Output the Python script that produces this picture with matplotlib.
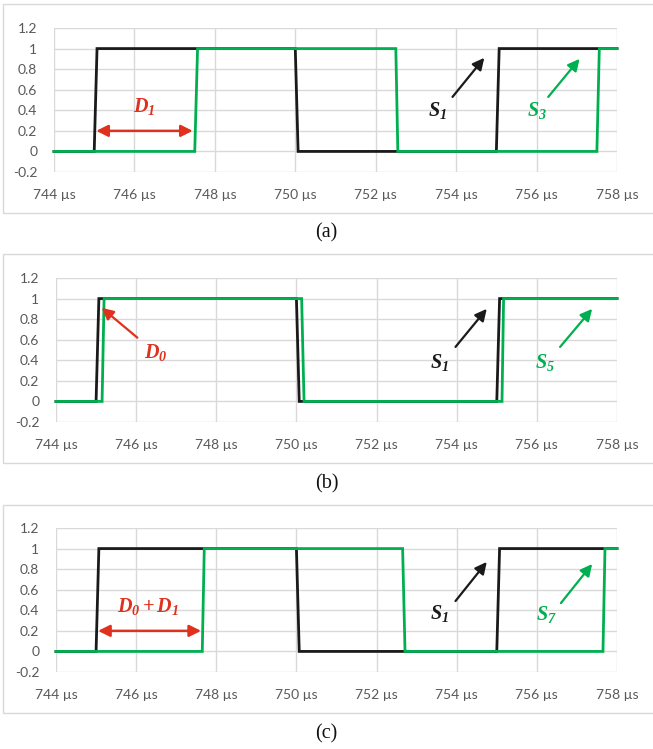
import matplotlib
matplotlib.use("Agg")
import matplotlib.pyplot as plt
from matplotlib.patches import Rectangle

# ---- data ----
x_ticks = [744, 746, 748, 750, 752, 754, 756, 758]
x_tick_labels = ["744 µs", "746 µs", "748 µs", "750 µs", "752 µs", "754 µs", "756 µs", "758 µs"]
y_ticks = [-0.2, 0, 0.2, 0.4, 0.6, 0.8, 1, 1.2]
y_tick_labels = ["-0.2", "0", "0.2", "0.4", "0.6", "0.8", "1", "1.2"]

t_s1 = [744, 745.0, 745.07, 750.0, 750.07, 755.0, 755.07, 758]
v_s1 = [0, 0, 1, 1, 0, 0, 1, 1]

t_s3 = [744, 747.5, 747.57, 752.5, 752.55, 757.5, 757.56, 758]
v_s3 = [0, 0, 1, 1, 0, 0, 1, 1]

t_s5 = [744, 745.15, 745.2, 750.13, 750.19, 755.13, 755.17, 758]
v_s5 = [0, 0, 1, 1, 0, 0, 1, 1]

t_s7 = [744, 747.65, 747.7, 752.65, 752.71, 757.65, 757.7, 758]
v_s7 = [0, 0, 1, 1, 0, 0, 1, 1]

green_names = [r"$\mathbf{S_3}$", r"$\mathbf{S_5}$", r"$\mathbf{S_7}$"]
black_name = r"$\mathbf{S_1}$"
captions = ["(a)", "(b)", "(c)"]

BLACK = "#1a1a1a"
GREEN = "#00b050"
RED = "#e0301e"
GRID = "#d9d9d9"
TICKC = "#595959"

plt.rcParams["mathtext.fontset"] = "custom"
plt.rcParams["mathtext.bf"] = "Liberation Serif:bold:italic"
plt.rcParams["mathtext.it"] = "Liberation Serif:italic"
plt.rcParams["mathtext.rm"] = "Liberation Serif"

W, H = 653, 749
fig = plt.figure(figsize=(W / 100, H / 100), dpi=100)

# panel geometry in pixels: (axes left, axes right, axes top, axes bottom, box top, box bottom, caption y)
panels = [
    (54, 617, 28, 172, 4, 213, 233),
    (56, 617, 278, 422, 254, 463, 484),
    (56, 617, 528, 672, 505, 713, 734),
]

green_series = [(t_s3, v_s3), (t_s5, v_s5), (t_s7, v_s7)]

axes = []
for i, (l, r, t, b, bt, bb, cy) in enumerate(panels):
    # frame box
    fig.patches.append(Rectangle((3 / W, 1 - bb / H), (W + 10) / W, (bb - bt) / H,
                                 transform=fig.transFigure, fill=False,
                                 edgecolor=GRID, linewidth=1.0))
    ax = fig.add_axes([l / W, 1 - b / H, (r - l) / W, (b - t) / H])
    axes.append(ax)
    ax.set_xlim(744, 758)
    ax.set_ylim(-0.2, 1.2)
    ax.set_xticks(x_ticks)
    ax.set_xticklabels(x_tick_labels)
    ax.set_yticks(y_ticks)
    ax.set_yticklabels(y_tick_labels)
    for s in ax.spines.values():
        s.set_visible(False)
    ax.grid(True, color=GRID, linewidth=1.0)
    ax.set_axisbelow(True)
    ax.tick_params(length=0, colors=TICKC, labelsize=10)
    ax.tick_params(axis="x", pad=12)
    ax.tick_params(axis="y", pad=12)
    for lab in ax.get_xticklabels() + ax.get_yticklabels():
        lab.set_fontfamily("Lato")
        lab.set_color(TICKC)
    ax.patch.set_alpha(0)

    ax.plot(t_s1, v_s1, color=BLACK, linewidth=2.0, solid_joinstyle="miter", clip_on=False)
    gt, gv = green_series[i]
    ax.plot(gt, gv, color=GREEN, linewidth=2.0, solid_joinstyle="miter", clip_on=False)

    fig.text(0.5, 1 - cy / H, captions[i], ha="center", va="center",
             fontsize=14.5, family="Liberation Serif", color="#111111")

arrow_kw = dict(arrowstyle="-|>,head_length=0.7,head_width=0.35", linewidth=1.6,
                shrinkA=0, shrinkB=0)
dbl_kw = dict(arrowstyle="<|-|>,head_length=0.7,head_width=0.35", linewidth=1.8,
              shrinkA=0, shrinkB=0, color=RED)

FS = 14.5

# (a)
ax = axes[0]
ax.annotate("", xy=(747.45, 0.2), xytext=(745.05, 0.2), arrowprops=dbl_kw)
ax.text(746.25, 0.44, r"$\mathbf{D_1}$", color=RED, fontsize=FS, ha="center", va="center")
ax.annotate("", xy=(754.7, 0.91), xytext=(753.91, 0.53), arrowprops=dict(color=BLACK, **arrow_kw))
ax.text(753.53, 0.4, black_name, color=BLACK, fontsize=FS, ha="center", va="center")
ax.annotate("", xy=(757.07, 0.9), xytext=(756.29, 0.53), arrowprops=dict(color=GREEN, **arrow_kw))
ax.text(756.02, 0.4, green_names[0], color=GREEN, fontsize=FS, ha="center", va="center")

# (b)
ax = axes[1]
ax.annotate("", xy=(745.14, 0.91), xytext=(746.03, 0.62), arrowprops=dict(color=RED, **arrow_kw))
ax.text(746.5, 0.48, r"$\mathbf{D_0}$", color=RED, fontsize=FS, ha="center", va="center")
ax.annotate("", xy=(754.75, 0.9), xytext=(753.97, 0.53), arrowprops=dict(color=BLACK, **arrow_kw))
ax.text(753.58, 0.38, black_name, color=BLACK, fontsize=FS, ha="center", va="center")
ax.annotate("", xy=(757.38, 0.9), xytext=(756.58, 0.53), arrowprops=dict(color=GREEN, **arrow_kw))
ax.text(756.2, 0.38, green_names[1], color=GREEN, fontsize=FS, ha="center", va="center")

# (c)
ax = axes[2]
ax.annotate("", xy=(747.62, 0.2), xytext=(745.05, 0.2), arrowprops=dbl_kw)
ax.text(746.3, 0.44, r"$\mathbf{D_0+D_1}$", color=RED, fontsize=FS, ha="center", va="center")
ax.annotate("", xy=(754.75, 0.87), xytext=(753.97, 0.49), arrowprops=dict(color=BLACK, **arrow_kw))
ax.text(753.58, 0.37, black_name, color=BLACK, fontsize=FS, ha="center", va="center")
ax.annotate("", xy=(757.38, 0.85), xytext=(756.6, 0.47), arrowprops=dict(color=GREEN, **arrow_kw))
ax.text(756.25, 0.36, green_names[2], color=GREEN, fontsize=FS, ha="center", va="center")

fig.savefig("out.png", dpi=100, facecolor="white")
